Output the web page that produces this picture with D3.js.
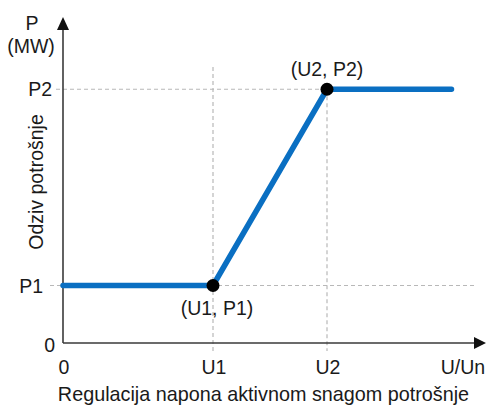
<!DOCTYPE html>
<html><head><meta charset="utf-8">
<script src="https://cdn.jsdelivr.net/npm/d3@7"></script>
<style>body{margin:0;background:#fff}svg{display:block}text{font-family:"Liberation Sans",Arial,sans-serif;fill:#1a1a1a}</style>
</head><body>
<script>
// Data (abstract units)
const xTicks = [{label:"0", v:0},{label:"U1", v:5},{label:"U2", v:8.8}];
const yTicks = [{label:"P1", v:2.3},{label:"P2", v:10.15}];
const curveX = [0, 5, 8.8, 12.95];
const curveY = [2.3, 2.3, 10.15, 10.15];
const pointLabels = ["(U1, P1)", "(U2, P2)"];

const W = 487, H = 408;
const svg = d3.select("body").append("svg").attr("width", W).attr("height", H);
const x = d3.scaleLinear().domain([0, 14]).range([63, 483]);
const y = d3.scaleLinear().domain([0, 13]).range([343, 18]);

const axisCol = "#3a3a3a", gridCol = "#b8b8b8", blue = "#0a6fc2";

// dashed reference lines
svg.append("line").attr("x1", 50).attr("x2", 475).attr("y1", y(yTicks[0].v)).attr("y2", y(yTicks[0].v))
  .attr("stroke", gridCol).attr("stroke-dasharray", "4,3").attr("stroke-width", 1.2);
svg.append("line").attr("x1", 56).attr("x2", x(xTicks[2].v)).attr("y1", y(yTicks[1].v)).attr("y2", y(yTicks[1].v))
  .attr("stroke", gridCol).attr("stroke-dasharray", "4,3").attr("stroke-width", 1.2);
svg.append("line").attr("x1", x(xTicks[1].v)).attr("x2", x(xTicks[1].v)).attr("y1", 67).attr("y2", 351)
  .attr("stroke", gridCol).attr("stroke-dasharray", "4,3").attr("stroke-width", 1.2);
svg.append("line").attr("x1", x(xTicks[2].v)).attr("x2", x(xTicks[2].v)).attr("y1", y(yTicks[1].v)).attr("y2", 351)
  .attr("stroke", gridCol).attr("stroke-dasharray", "4,3").attr("stroke-width", 1.2);

// axes
svg.append("line").attr("x1", x(0)).attr("x2", x(0)).attr("y1", y(0)).attr("y2", 28)
  .attr("stroke", axisCol).attr("stroke-width", 1.6);
svg.append("line").attr("x1", x(0)).attr("x2", 476).attr("y1", y(0)).attr("y2", y(0))
  .attr("stroke", axisCol).attr("stroke-width", 1.6);
svg.append("path").attr("d", `M${x(0)},17 L${x(0)-6},30 L${x(0)+6},30 Z`).attr("fill", "#111");
svg.append("path").attr("d", `M486,${y(0)} L474,${y(0)-6} L474,${y(0)+6} Z`).attr("fill", "#111");

// curve
const line = d3.line().x(d => x(d[0])).y(d => y(d[1]));
svg.append("path").datum(d3.zip(curveX, curveY)).attr("d", line)
  .attr("fill", "none").attr("stroke", blue).attr("stroke-width", 5.5)
  .attr("stroke-linecap", "round").attr("stroke-linejoin", "round");

// points
const pts = [[curveX[1], curveY[1]], [curveX[2], curveY[2]]];
svg.selectAll("circle.pt").data(pts).enter().append("circle")
  .attr("cx", d => x(d[0])).attr("cy", d => y(d[1])).attr("r", 6.5).attr("fill", "#000");

const fs = 19.5;
// point labels
svg.append("text").attr("x", x(pts[0][0]) + 4).attr("y", y(pts[0][1]) + 29)
  .attr("text-anchor", "middle").attr("font-size", fs).text(pointLabels[0]);
svg.append("text").attr("x", x(pts[1][0])).attr("y", y(pts[1][1]) - 13)
  .attr("text-anchor", "middle").attr("font-size", fs).text(pointLabels[1]);

// x tick labels
svg.selectAll("text.xt").data(xTicks).enter().append("text")
  .attr("x", d => x(d.v) + 1).attr("y", 374).attr("text-anchor", "middle").attr("font-size", fs)
  .text(d => d.label);
svg.append("text").attr("x", 463).attr("y", 374).attr("text-anchor", "middle").attr("font-size", fs).text("U/Un");

// y tick labels
svg.append("text").attr("x", 43).attr("y", y(yTicks[0].v) + 7).attr("text-anchor", "end").attr("font-size", fs).text(yTicks[0].label);
svg.append("text").attr("x", 52).attr("y", y(yTicks[1].v) + 7).attr("text-anchor", "end").attr("font-size", fs).text(yTicks[1].label);
svg.append("text").attr("x", 55).attr("y", 352).attr("text-anchor", "end").attr("font-size", fs).text("0");

// axis units
svg.append("text").attr("x", 32).attr("y", 30).attr("text-anchor", "middle").attr("font-size", fs).text("P");
svg.append("text").attr("x", 31).attr("y", 53).attr("text-anchor", "middle").attr("font-size", fs).text("(MW)");

// axis titles
svg.append("text").attr("transform", "translate(43,182) rotate(-90)").attr("text-anchor", "middle")
  .attr("font-size", fs).text("Odziv potrošnje");
svg.append("text").attr("x", 263.5).attr("y", 401).attr("text-anchor", "middle").attr("font-size", 19.8)
  .text("Regulacija napona aktivnom snagom potrošnje");
</script>
</body></html>
